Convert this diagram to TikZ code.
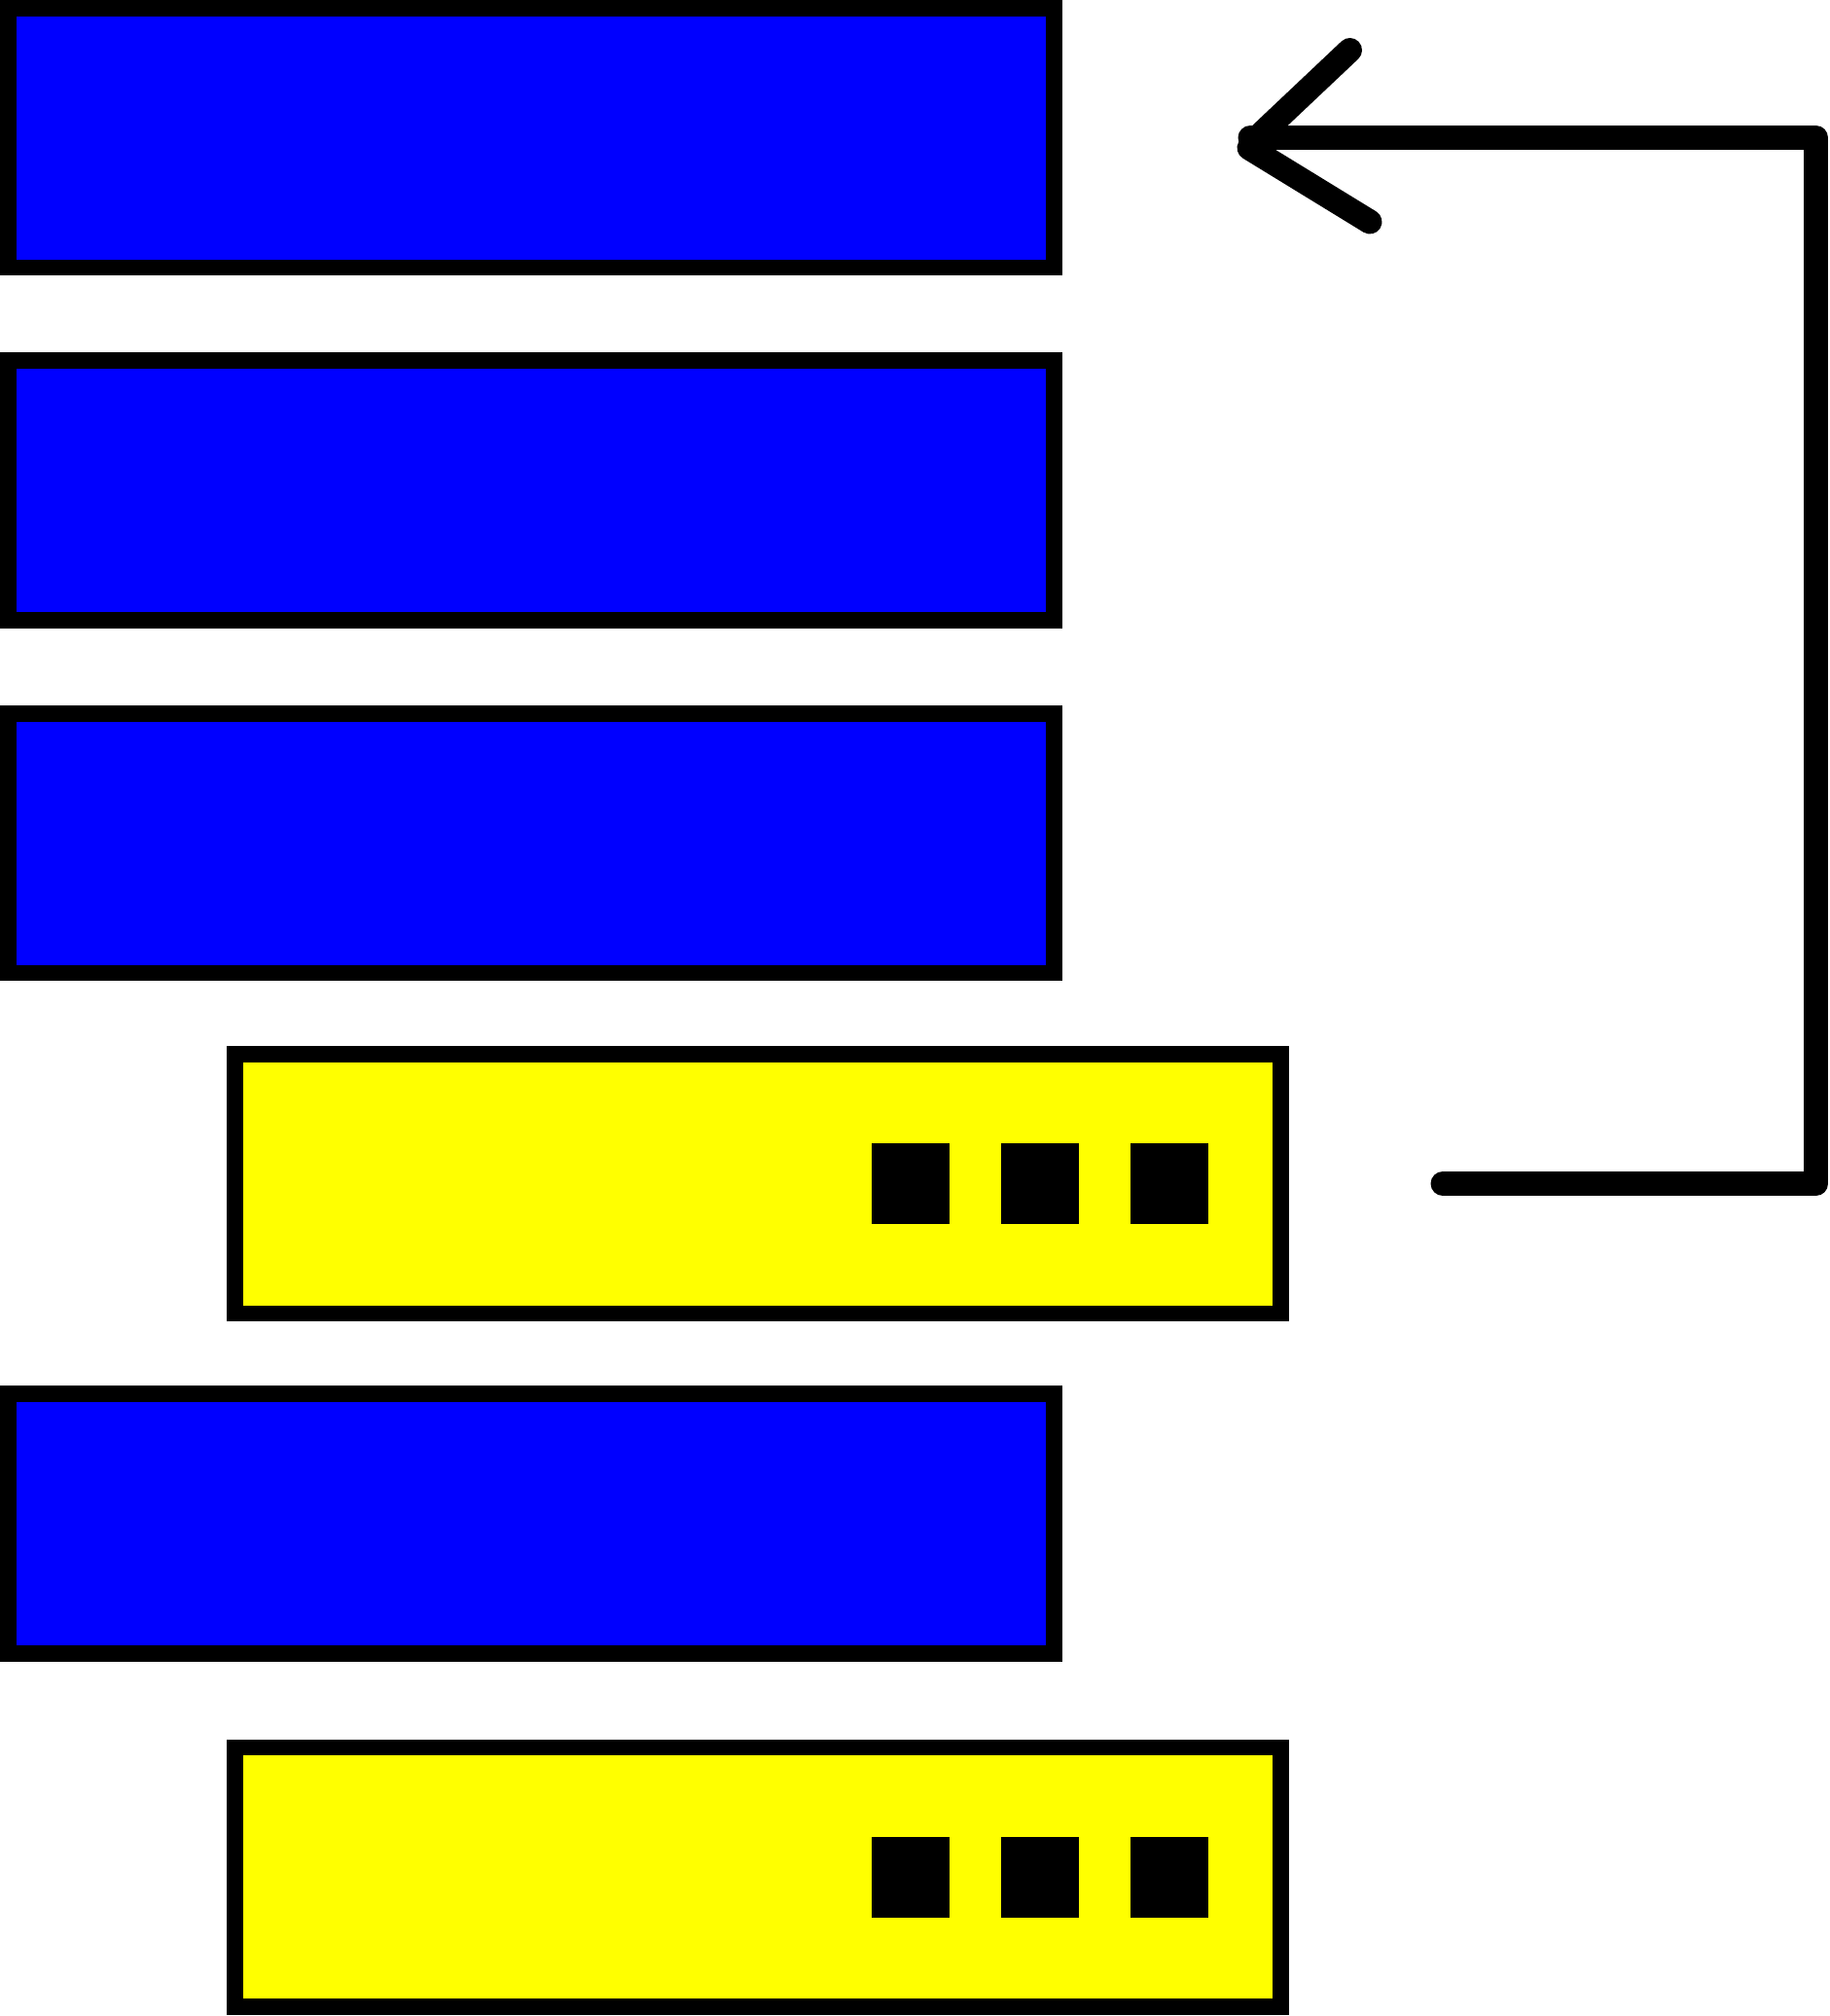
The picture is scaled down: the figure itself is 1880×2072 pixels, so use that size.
\documentclass[tikz,border=0pt]{standalone}
\definecolor{boxblue}{RGB}{0,0,255}
\definecolor{boxyellow}{RGB}{255,255,0}
\begin{document}
\begin{tikzpicture}[x=1pt,y=-1pt,
  bluebox/.style={draw=black,fill=boxblue,line width=16.7pt,minimum width=1075pt,minimum height=266.6pt,inner sep=0pt,outer sep=0pt},
  yellowbox/.style={draw=black,fill=boxyellow,line width=16.7pt,minimum width=1075pt,minimum height=266.6pt,inner sep=0pt,outer sep=0pt},
  sq/.style={fill=black,minimum width=80pt,minimum height=83pt,inner sep=0pt,outer sep=0pt},
  conn/.style={draw=black,line width=25pt,line cap=round,line join=round}]
\useasboundingbox (0,0) rectangle (1880,2072);
\node[bluebox] (b1) at (545.85,141.65) {};
\node[bluebox] (b2) at (545.85,504) {};
\node[bluebox] (b3) at (545.85,866.65) {};
\node[yellowbox] (y1) at (779.15,1216.65) {};
\node[bluebox] (b4) at (545.85,1566) {};
\node[yellowbox] (y2) at (779.15,1929.35) {};
\foreach \i/\x in {1/935.5,2/1068.5,3/1202}{
  \node[sq] (sqa\i) at (\x,1216.5) {};
  \node[sq] (sqb\i) at (\x,1929.2) {};
}
\coordinate (tip) at (1285,141.7);
\coordinate (tipu) at (1292,141.7);
\coordinate (tipl) at (1284,152);
\coordinate (c1) at (1866.7,141.7);
\coordinate (c2) at (1866.7,1216.5);
\coordinate (start) at (1483,1216.5);
\coordinate (hu) at (1387.5,51.5);
\coordinate (hl) at (1408,228);
\draw[conn] (start) -- (c2) -- (c1) -- (tip);
\draw[conn] (tipu) -- (hu);
\draw[conn] (tipl) -- (hl);
\end{tikzpicture}
\end{document}
